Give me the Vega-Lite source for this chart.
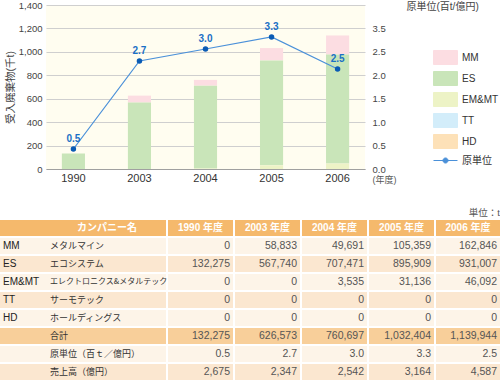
{
  "$schema": "https://vega.github.io/schema/vega-lite/v6.json",
  "padding": 0,
  "background": "white",
  "datasets": {
    "cells": [
      {"key": "MM", "year": "1990", "v": 0},
      {"key": "MM", "year": "2003", "v": 58833},
      {"key": "MM", "year": "2004", "v": 49691},
      {"key": "MM", "year": "2005", "v": 105359},
      {"key": "MM", "year": "2006", "v": 162846},
      {"key": "ES", "year": "1990", "v": 132275},
      {"key": "ES", "year": "2003", "v": 567740},
      {"key": "ES", "year": "2004", "v": 707471},
      {"key": "ES", "year": "2005", "v": 895909},
      {"key": "ES", "year": "2006", "v": 931007},
      {"key": "EM&MT", "year": "1990", "v": 0},
      {"key": "EM&MT", "year": "2003", "v": 0},
      {"key": "EM&MT", "year": "2004", "v": 3535},
      {"key": "EM&MT", "year": "2005", "v": 31136},
      {"key": "EM&MT", "year": "2006", "v": 46092},
      {"key": "TT", "year": "1990", "v": 0},
      {"key": "TT", "year": "2003", "v": 0},
      {"key": "TT", "year": "2004", "v": 0},
      {"key": "TT", "year": "2005", "v": 0},
      {"key": "TT", "year": "2006", "v": 0},
      {"key": "HD", "year": "1990", "v": 0},
      {"key": "HD", "year": "2003", "v": 0},
      {"key": "HD", "year": "2004", "v": 0},
      {"key": "HD", "year": "2005", "v": 0},
      {"key": "HD", "year": "2006", "v": 0},
      {"key": "合計", "year": "1990", "v": 132275},
      {"key": "合計", "year": "2003", "v": 626573},
      {"key": "合計", "year": "2004", "v": 760697},
      {"key": "合計", "year": "2005", "v": 1032404},
      {"key": "合計", "year": "2006", "v": 1139944},
      {"key": "原単位", "year": "1990", "v": 0.5},
      {"key": "原単位", "year": "2003", "v": 2.7},
      {"key": "原単位", "year": "2004", "v": 3.0},
      {"key": "原単位", "year": "2005", "v": 3.3},
      {"key": "原単位", "year": "2006", "v": 2.5},
      {"key": "売上高", "year": "1990", "v": 2675},
      {"key": "売上高", "year": "2003", "v": 2347},
      {"key": "売上高", "year": "2004", "v": 2542},
      {"key": "売上高", "year": "2005", "v": 3164},
      {"key": "売上高", "year": "2006", "v": 4587}
    ],
    "rows": [
      {"key": "hdr", "code": "", "name": "カンパニー名"},
      {"key": "MM", "code": "MM", "name": "メタルマイン"},
      {"key": "ES", "code": "ES", "name": "エコシステム"},
      {"key": "EM&MT", "code": "EM&MT", "name": "エレクトロニクス&メタルテック"},
      {"key": "TT", "code": "TT", "name": "サーモテック"},
      {"key": "HD", "code": "HD", "name": "ホールディングス"},
      {"key": "合計", "code": "", "name": "合計"},
      {"key": "原単位", "code": "", "name": "原単位（百ｔ／億円）"},
      {"key": "売上高", "code": "", "name": "売上高（億円）"}
    ],
    "hdrs": [
      {"year": "1990", "label": "1990 年度"},
      {"year": "2003", "label": "2003 年度"},
      {"year": "2004", "label": "2004 年度"},
      {"year": "2005", "label": "2005 年度"},
      {"year": "2006", "label": "2006 年度"}
    ]
  },
  "spacing": 23,
  "vconcat": [
    {
      "width": 319,
      "height": 164,
      "view": {"fill": "#fffdf0", "stroke": null},
      "data": {"name": "cells"},
      "encoding": {
        "x": {
          "field": "year", "type": "nominal",
          "scale": {"paddingInner": 0.65, "paddingOuter": 0.24},
          "axis": {"labelAngle": 0, "labelFontSize": 11, "labelPadding": 3, "labelColor": "#333", "domain": true, "domainColor": "#a0a0a0", "grid": false, "title": "(年度)", "titleX": 326, "titleY": 10, "titleAlign": "left", "titleBaseline": "middle", "titleFontSize": 9, "titleColor": "#555", "titleFontWeight": "normal"}
        }
      },
      "layer": [
        {
          "transform": [{"filter": {"field": "key", "oneOf": ["MM", "ES", "EM&MT", "TT", "HD"]}}],
          "mark": {"type": "bar"},
          "encoding": {
            "y": {
              "field": "v", "type": "quantitative", "stack": "zero",
              "scale": {"domain": [0, 1400000]},
              "axis": {"orient": "left", "values": [0, 200000, 400000, 600000, 800000, 1000000, 1200000, 1400000], "labelExpr": "format(datum.value/1000, ',')", "grid": true, "title": "受入廃棄物(千t)", "titleFontSize": 10.5, "titlePadding": 3, "labelPadding": 4, "labelFontSize": 9.5}
            },
            "color": {
              "field": "key", "type": "nominal",
              "scale": {"domain": ["MM", "ES", "EM&MT", "TT", "HD", "原単位"], "range": ["#fcdde2", "#c9e5b9", "#edf3c6", "#d3edfa", "#fde1b8", "#4a90d9"]},
              "legend": {
                "orient": "none", "legendX": 392, "legendY": 45, "title": null, "padding": 0,
                "symbolSize": 196, "rowPadding": 2, "labelOffset": 9, "labelFontSize": 10, "labelColor": "#333",
                "encode": {
                  "symbols": {
                    "update": {
                      "shape": {"signal": "datum.label === '原単位' ? 'M-1.714,0H1.714M0.36,0A0.36,0.36,0,1,1,-0.36,0A0.36,0.36,0,1,1,0.36,0' : 'M-1.714,-1H1.714V1H-1.714Z'"},
                      "fill": {"signal": "datum.label === '原単位' ? '#0a5bb4' : scale('color', datum.value)"},
                      "stroke": {"signal": "datum.label === '原単位' ? '#4a90d9' : 'transparent'"},
                      "strokeWidth": {"value": 1},
                      "opacity": {"value": 1},
                      "fillOpacity": {"value": 1}
                    }
                  }
                }
              }
            },
            "order": {"field": "key", "sort": "ascending"}
          }
        },
        {
          "transform": [{"filter": "datum.key === '原単位'"}],
          "encoding": {
            "y": {
              "field": "v", "type": "quantitative",
              "scale": {"domain": [0, 4.1]},
              "axis": {"orient": "right", "grid": false, "values": [0, 0.5857, 1.1714, 1.7571, 2.3429, 2.9286, 3.5143], "labelExpr": "round(datum.value/0.5857) == 6 ? '3.5' : format(round(datum.value/0.5857)*0.5, '.1f')", "labelPadding": 7, "labelFontSize": 9.5, "title": "原単位(百t/億円)", "titleAngle": 0, "titleAlign": "left", "titleBaseline": "middle", "titleX": 41, "titleY": 1, "titleFontSize": 10}
            }
          },
          "layer": [
            {"mark": {"type": "line", "strokeWidth": 1.2}, "encoding": {"color": {"datum": "原単位", "type": "nominal"}}},
            {"mark": {"type": "point", "filled": true, "size": 30, "color": "#0a5bb4", "opacity": 1}},
            {"mark": {"type": "text", "dy": -10, "fontSize": 10, "fontWeight": "bold", "color": "#1a70c6"}, "encoding": {"text": {"field": "v", "type": "quantitative", "format": ".1f"}}}
          ]
        }
      ],
      "resolve": {"scale": {"y": "independent"}}
    },
    {
      "title": {"text": "単位：t", "anchor": "end", "fontSize": 9.5, "fontWeight": "normal", "color": "#555", "offset": 3},
      "spacing": 2,
      "bounds": "flush",
      "hconcat": [
        {
          "width": 120, "height": 160,
          "data": {"name": "rows"},
          "encoding": {"y": {"field": "key", "type": "nominal", "scale": {"domain": ["hdr", "MM", "ES", "EM&MT", "TT", "HD", "合計", "原単位", "売上高"], "paddingInner": 0.11, "paddingOuter": 0}, "axis": null}},
          "layer": [
            {"mark": {"type": "rect"}, "encoding": {"x": {"datum": -46, "type": "quantitative", "scale": {"domain": [0, 120]}, "axis": null}, "x2": {"datum": 120}, "fill": {"field": "key", "type": "nominal", "scale": {"domain": ["hdr", "MM", "ES", "EM&MT", "TT", "HD", "合計", "原単位", "売上高"], "range": ["#f5b96c", "#fdf4e8", "#fbe7d0", "#fdf4e8", "#fbe7d0", "#fdf4e8", "#f8cf9a", "#fdf4e8", "#fbe7d0"]}, "legend": null}}},
            {"mark": {"type": "text", "align": "left", "fontSize": 10, "color": "#222"}, "encoding": {"x": {"datum": -43, "type": "quantitative"}, "text": {"field": "code"}}},
            {"transform": [{"filter": "datum.key !== 'hdr'"}], "mark": {"type": "text", "align": "left", "color": "#333", "font": "Noto Sans CJK JP"}, "encoding": {"x": {"datum": 4, "type": "quantitative"}, "text": {"field": "name"}, "size": {"condition": {"test": "datum.key === 'EM&MT'", "value": 8}, "value": 9}}},
            {"transform": [{"filter": "datum.key === 'hdr'"}], "mark": {"type": "text", "align": "center", "fontSize": 10, "fontWeight": "bold", "color": "#ffffff", "font": "Noto Sans CJK JP"}, "encoding": {"x": {"datum": 61, "type": "quantitative"}, "text": {"field": "name"}}}
          ]
        },
        {
          "width": 65, "height": 160,
          "encoding": {"y": {"field": "key", "type": "nominal", "scale": {"domain": ["hdr", "MM", "ES", "EM&MT", "TT", "HD", "合計", "原単位", "売上高"], "paddingInner": 0.11, "paddingOuter": 0}, "axis": null}},
          "layer": [
            {"data": {"name": "rows"}, "mark": {"type": "rect"}, "encoding": {"fill": {"field": "key", "type": "nominal", "legend": null}}},
            {"data": {"name": "hdrs"}, "transform": [{"filter": "datum.year === '1990'"}], "mark": {"type": "text", "fontSize": 10, "fontWeight": "bold", "color": "#ffffff"}, "encoding": {"y": {"datum": "hdr", "type": "nominal"}, "text": {"field": "label"}}},
            {"data": {"name": "cells"}, "transform": [{"filter": "datum.year === '1990'"}], "mark": {"type": "text", "align": "right", "dx": -3, "fontSize": 10.5, "color": "#555"}, "encoding": {"x": {"value": "width"}, "text": {"condition": {"test": "datum.key === '原単位'", "field": "v", "type": "quantitative", "format": ".1f"}, "field": "v", "type": "quantitative", "format": ","}}}
          ]
        },
        {
          "width": 65, "height": 160,
          "encoding": {"y": {"field": "key", "type": "nominal", "scale": {"domain": ["hdr", "MM", "ES", "EM&MT", "TT", "HD", "合計", "原単位", "売上高"], "paddingInner": 0.11, "paddingOuter": 0}, "axis": null}},
          "layer": [
            {"data": {"name": "rows"}, "mark": {"type": "rect"}, "encoding": {"fill": {"field": "key", "type": "nominal", "legend": null}}},
            {"data": {"name": "hdrs"}, "transform": [{"filter": "datum.year === '2003'"}], "mark": {"type": "text", "fontSize": 10, "fontWeight": "bold", "color": "#ffffff"}, "encoding": {"y": {"datum": "hdr", "type": "nominal"}, "text": {"field": "label"}}},
            {"data": {"name": "cells"}, "transform": [{"filter": "datum.year === '2003'"}], "mark": {"type": "text", "align": "right", "dx": -3, "fontSize": 10.5, "color": "#555"}, "encoding": {"x": {"value": "width"}, "text": {"condition": {"test": "datum.key === '原単位'", "field": "v", "type": "quantitative", "format": ".1f"}, "field": "v", "type": "quantitative", "format": ","}}}
          ]
        },
        {
          "width": 65, "height": 160,
          "encoding": {"y": {"field": "key", "type": "nominal", "scale": {"domain": ["hdr", "MM", "ES", "EM&MT", "TT", "HD", "合計", "原単位", "売上高"], "paddingInner": 0.11, "paddingOuter": 0}, "axis": null}},
          "layer": [
            {"data": {"name": "rows"}, "mark": {"type": "rect"}, "encoding": {"fill": {"field": "key", "type": "nominal", "legend": null}}},
            {"data": {"name": "hdrs"}, "transform": [{"filter": "datum.year === '2004'"}], "mark": {"type": "text", "fontSize": 10, "fontWeight": "bold", "color": "#ffffff"}, "encoding": {"y": {"datum": "hdr", "type": "nominal"}, "text": {"field": "label"}}},
            {"data": {"name": "cells"}, "transform": [{"filter": "datum.year === '2004'"}], "mark": {"type": "text", "align": "right", "dx": -3, "fontSize": 10.5, "color": "#555"}, "encoding": {"x": {"value": "width"}, "text": {"condition": {"test": "datum.key === '原単位'", "field": "v", "type": "quantitative", "format": ".1f"}, "field": "v", "type": "quantitative", "format": ","}}}
          ]
        },
        {
          "width": 65, "height": 160,
          "encoding": {"y": {"field": "key", "type": "nominal", "scale": {"domain": ["hdr", "MM", "ES", "EM&MT", "TT", "HD", "合計", "原単位", "売上高"], "paddingInner": 0.11, "paddingOuter": 0}, "axis": null}},
          "layer": [
            {"data": {"name": "rows"}, "mark": {"type": "rect"}, "encoding": {"fill": {"field": "key", "type": "nominal", "legend": null}}},
            {"data": {"name": "hdrs"}, "transform": [{"filter": "datum.year === '2005'"}], "mark": {"type": "text", "fontSize": 10, "fontWeight": "bold", "color": "#ffffff"}, "encoding": {"y": {"datum": "hdr", "type": "nominal"}, "text": {"field": "label"}}},
            {"data": {"name": "cells"}, "transform": [{"filter": "datum.year === '2005'"}], "mark": {"type": "text", "align": "right", "dx": -3, "fontSize": 10.5, "color": "#555"}, "encoding": {"x": {"value": "width"}, "text": {"condition": {"test": "datum.key === '原単位'", "field": "v", "type": "quantitative", "format": ".1f"}, "field": "v", "type": "quantitative", "format": ","}}}
          ]
        },
        {
          "width": 64, "height": 160,
          "encoding": {"y": {"field": "key", "type": "nominal", "scale": {"domain": ["hdr", "MM", "ES", "EM&MT", "TT", "HD", "合計", "原単位", "売上高"], "paddingInner": 0.11, "paddingOuter": 0}, "axis": null}},
          "layer": [
            {"data": {"name": "rows"}, "mark": {"type": "rect"}, "encoding": {"fill": {"field": "key", "type": "nominal", "legend": null}}},
            {"data": {"name": "hdrs"}, "transform": [{"filter": "datum.year === '2006'"}], "mark": {"type": "text", "fontSize": 10, "fontWeight": "bold", "color": "#ffffff"}, "encoding": {"y": {"datum": "hdr", "type": "nominal"}, "text": {"field": "label"}}},
            {"data": {"name": "cells"}, "transform": [{"filter": "datum.year === '2006'"}], "mark": {"type": "text", "align": "right", "dx": -3, "fontSize": 10.5, "color": "#555"}, "encoding": {"x": {"value": "width"}, "text": {"condition": {"test": "datum.key === '原単位'", "field": "v", "type": "quantitative", "format": ".1f"}, "field": "v", "type": "quantitative", "format": ","}}}
          ]
        }
      ]
    }
  ],
  "config": {
    "font": "Liberation Sans, Noto Sans CJK JP",
    "view": {"stroke": null},
    "axis": {"ticks": false, "domain": false, "labelColor": "#444", "titleColor": "#444", "titleFontWeight": "normal", "gridColor": "#cfcfcf", "labelFont": "Liberation Sans, Noto Sans CJK JP", "titleFont": "Liberation Sans, Noto Sans CJK JP"},
    "legend": {"labelFont": "Liberation Sans, Noto Sans CJK JP"},
    "title": {"font": "Liberation Sans, Noto Sans CJK JP"}
  }
}
